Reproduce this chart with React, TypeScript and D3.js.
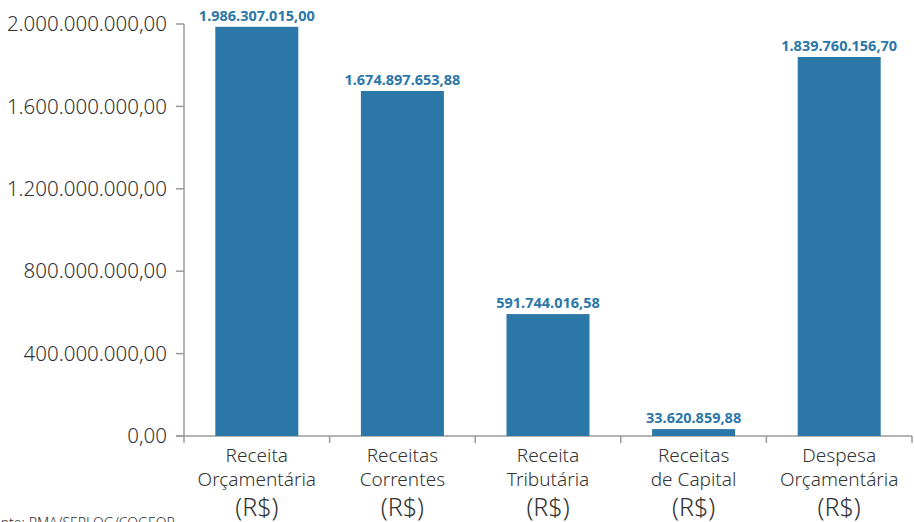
import React from "react";
import * as d3 from "d3";

const categories: string[][] = [
  ["Receita", "Orçamentária"],
  ["Receitas", "Correntes"],
  ["Receita", "Tributária"],
  ["Receitas", "de Capital"],
  ["Despesa", "Orçamentária"],
];
const values: number[] = [1986307015.0, 1674897653.88, 591744016.58, 33620859.88, 1839760156.7];
const yTicks: number[] = [0, 400000000, 800000000, 1200000000, 1600000000, 2000000000];

const W = 914;
const H = 522;
const margin = { top: 24, right: 2, bottom: 86, left: 184 };
const barColor = "#2b77a8";
const axisColor = "#9a9a9a";
const textColor = "#333333";
const font = "'Noto Sans', 'Open Sans', sans-serif";

const fmt = (v: number): string => {
  const [i, d] = v.toFixed(2).split(".");
  return i.replace(/\B(?=(\d{3})+(?!\d))/g, ".") + "," + d;
};

export default function App() {
  const x = d3
    .scaleBand<number>()
    .domain(d3.range(values.length))
    .range([margin.left, W - margin.right])
    .paddingInner(0.43)
    .paddingOuter(0.215);
  const y = d3
    .scaleLinear()
    .domain([0, 2000000000])
    .range([H - margin.bottom, margin.top]);
  const y0 = y(0);
  const step = x.step();
  const bandStart = margin.left;

  return (
    <svg
      width={W}
      height={H}
      style={{ position: "absolute", left: 0, top: 0, background: "#fff" }}
      fontFamily={font}
    >
      {/* y axis */}
      <line x1={margin.left} x2={margin.left} y1={y(2000000000)} y2={y0} stroke={axisColor} strokeWidth={1.5} />
      {yTicks.map((t) => (
        <g key={t}>
          <line x1={margin.left - 8} x2={margin.left} y1={y(t)} y2={y(t)} stroke={axisColor} strokeWidth={1.5} />
          <text x={margin.left - 17} y={y(t)} dy="0.35em" textAnchor="end" fontSize={20.5} fill={textColor} fontWeight={300}>
            {fmt(t)}
          </text>
        </g>
      ))}
      {/* x axis */}
      <line x1={margin.left - 8} x2={W - margin.right} y1={y0} y2={y0} stroke={axisColor} strokeWidth={1.5} />
      {d3.range(values.length + 1).map((i) => (
        <line
          key={i}
          x1={bandStart + i * step}
          x2={bandStart + i * step}
          y1={y0}
          y2={y0 + 7}
          stroke={axisColor}
          strokeWidth={1.5}
        />
      ))}
      {/* bars */}
      {values.map((v, i) => (
        <g key={i}>
          <rect x={x(i)!} y={y(v)} width={x.bandwidth()} height={y0 - y(v)} fill={barColor} />
          <text
            x={x(i)! + x.bandwidth() / 2}
            y={y(v) - 6}
            textAnchor="middle"
            fontSize={14.5}
            fontWeight={700}
            fill={barColor}
          >
            {fmt(v)}
          </text>
        </g>
      ))}
      {/* category labels */}
      {categories.map((c, i) => {
        const cx = x(i)! + x.bandwidth() / 2;
        return (
          <g key={i} fill={textColor} textAnchor="middle" fontWeight={300}>
            <text x={cx} y={462} fontSize={19}>{c[0]}</text>
            <text x={cx} y={486} fontSize={19}>{c[1]}</text>
            <text x={cx} y={516} fontSize={25}>(R$)</text>
          </g>
        );
      })}
      <text x={175} y={528} textAnchor="end" fontSize={14} fill={textColor} fontWeight={300}>
        Fonte: PMA/SEPLOG/COGEOR
      </text>
    </svg>
  );
}
